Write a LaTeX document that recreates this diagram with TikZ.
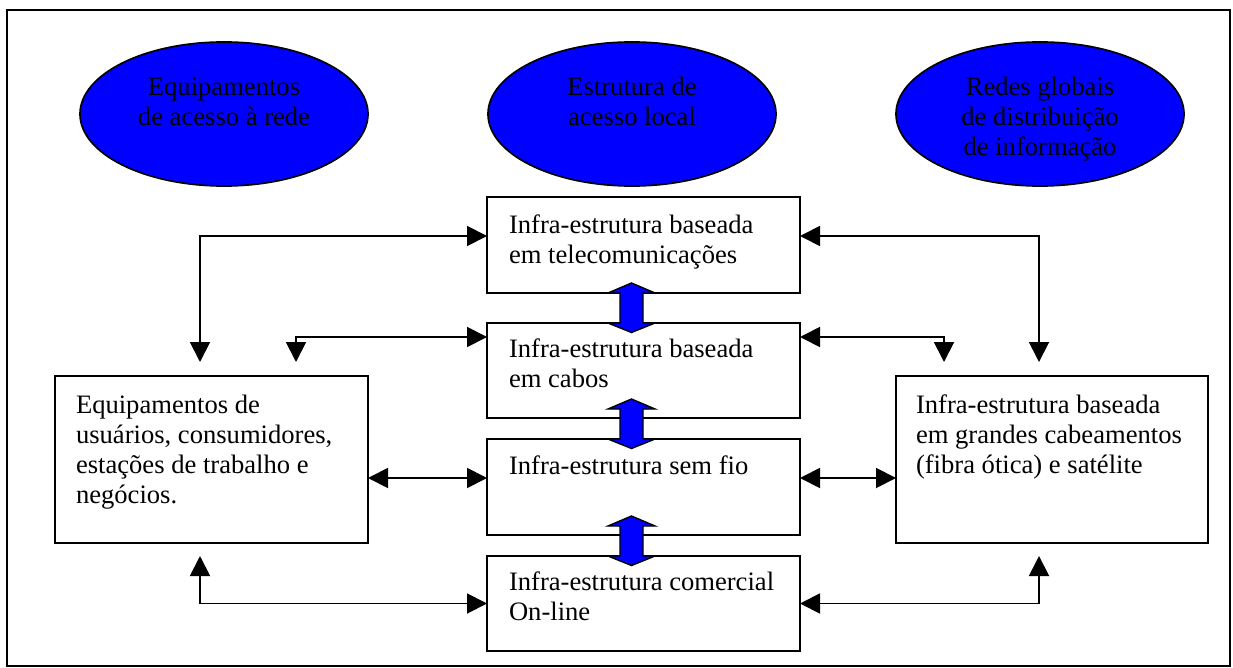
\documentclass[tikz,border=0pt]{standalone}
\usepackage{fontspec}
\setmainfont{Liberation Serif}
\usetikzlibrary{arrows.meta,shapes.geometric,calc}
\definecolor{netblue}{RGB}{0,0,255}

% blue block double arrow joining two stacked boxes (#1 above, #2 below)
\newcommand\pipearrow[2]{%
  \path[pipe] let \p1=($(#1.south)+(-12pt,0pt)$), \p2=(#2.north) in
    (\x1,\y2+40pt) -- (\x1+23.5pt,\y2+30pt) -- (\x1+11.5pt,\y2+30pt)
    -- (\x1+11.5pt,\y2) -- (\x1+23.5pt,\y2) -- (\x1,\y2-9.5pt)
    -- (\x1-23.5pt,\y2) -- (\x1-11.5pt,\y2) -- (\x1-11.5pt,\y2+30pt)
    -- (\x1-23.5pt,\y2+30pt) -- cycle;}

\begin{document}
\begin{tikzpicture}[x=1pt,y=-1pt,
  every node/.style={inner sep=0pt, outer sep=0pt},
  txt/.style={font=\fontsize{26.6}{30}\selectfont},
  oval/.style={ellipse, draw, line width=1.7pt, fill=netblue,
    minimum width=288pt, minimum height=144pt},
  panel/.style={rectangle, draw, line width=1.9pt, fill=white},
  link/.style={line width=1.9pt,
    {Triangle[length=20pt,width=20pt]}-{Triangle[length=20pt,width=20pt]}},
  pipe/.style={draw, line width=1.4pt, fill=netblue, line join=miter}]

\useasboundingbox (0,0) rectangle (1233,668);
\draw[line width=1.7pt] (7,10) rectangle (1230,666);

% three headings
\node[oval] (o1) at (224,114) {};
\node[oval] (o2) at (632,114) {};
\node[oval] (o3) at (1040,114) {};
\node[txt, align=center, anchor=north] (o1t) at ($(o1.north)+(0,32.5)$)
  {\strut Equipamentos\\de acesso à rede};
\node[txt, align=center, anchor=north] (o2t) at ($(o2.north)+(0,32.5)$)
  {\strut Estrutura de\\acesso local};
\node[txt, align=center, anchor=north] (o3t) at ($(o3.north)+(0,32.5)$)
  {\strut Redes globais\\de distribuição\\de informação};

% boxes
\node[panel, minimum width=313pt, minimum height=167pt] (equip) at (211.5,459.5) {};
\node[panel, minimum width=312pt, minimum height=167pt] (glob) at (1052,459.5) {};
\node[panel, minimum width=313pt, minimum height=96pt] (tel) at (643.5,245) {};
\node[panel, minimum width=313pt, minimum height=95pt] (cab) at (643.5,370.5) {};
\node[panel, minimum width=313pt, minimum height=96pt] (sem) at (643.5,487) {};
\node[panel, minimum width=313pt, minimum height=95pt] (com) at (643.5,603.5) {};

\node[txt, align=left, anchor=north west] (equipt) at ($(equip.north west)+(21,16)$)
  {\strut Equipamentos de\\usuários, consumidores,\\estações de trabalho e\\negócios.};
\node[txt, align=left, anchor=north west] (globt) at ($(glob.north west)+(20,16)$)
  {\strut Infra-estrutura baseada\\em grandes cabeamentos\\(fibra ótica) e satélite};
\node[txt, align=left, anchor=north west] (telt) at ($(tel.north west)+(22,15)$)
  {\strut Infra-estrutura baseada\\em telecomunicações};
\node[txt, align=left, anchor=north west] (cabt) at ($(cab.north west)+(22,13)$)
  {\strut Infra-estrutura baseada\\em cabos};
\node[txt, align=left, anchor=north west] (semt) at ($(sem.north west)+(22,14)$)
  {\strut Infra-estrutura sem fio};
\node[txt, align=left, anchor=north west] (comt) at ($(com.north west)+(22,13)$)
  {\strut Infra-estrutura comercial\\On-line};

% attachment points
\coordinate (telL) at ($(tel.north west)+(0,39)$);
\coordinate (telR) at ($(tel.north east)+(0,39)$);
\coordinate (cabL) at ($(cab.north west)+(0,14)$);
\coordinate (cabR) at ($(cab.north east)+(0,14)$);
\coordinate (semL) at ($(sem.north west)+(0,39)$);
\coordinate (semR) at ($(sem.north east)+(0,39)$);
\coordinate (eqA) at ($(equip.north west)+(145,-14)$);
\coordinate (eqB) at ($(equip.north west)+(241,-14)$);
\coordinate (eqC) at ($(equip.south west)+(145,13)$);
\coordinate (glA) at ($(glob.north west)+(143,-14)$);
\coordinate (glB) at ($(glob.north west)+(48,-14)$);
\coordinate (glC) at ($(glob.south west)+(143,13)$);

% connectors
\draw[link] (eqA) |- (telL);
\draw[link] (eqB) |- (cabL);
\draw[link] (equip.east |- semL) -- (semL);
\draw[link] (eqC) |- (com.west);
\draw[link] (glA) |- (telR);
\draw[link] (glB) |- (cabR);
\draw[link] (glob.west |- semR) -- (semR);
\draw[link] (glC) |- (com.east);

% links between the local structures
\pipearrow{tel}{cab}
\pipearrow{cab}{sem}
\pipearrow{sem}{com}
\end{tikzpicture}
\end{document}
